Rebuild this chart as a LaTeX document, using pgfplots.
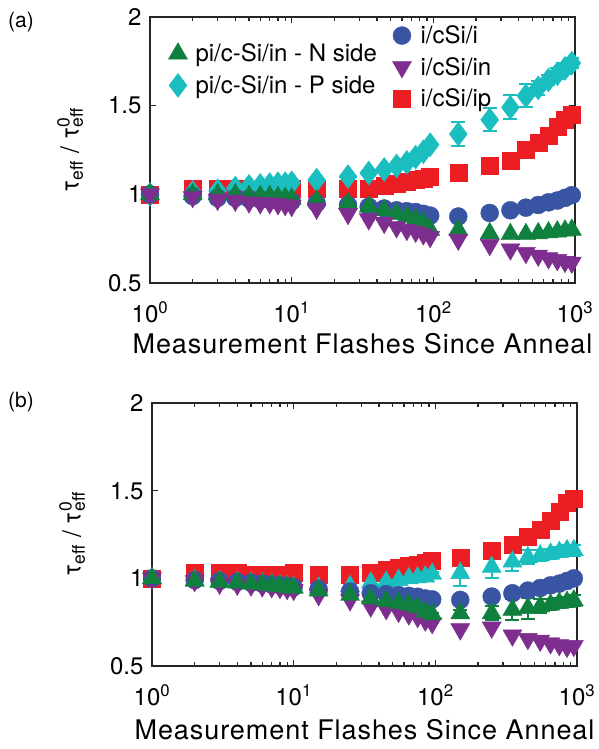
\documentclass[border=0pt]{standalone}
\usepackage{pgfplots}
\pgfplotsset{compat=1.18}
\usepackage{pgfplotstable}
\usepackage{fontspec}
\setmainfont{TeX Gyre Heros}

\definecolor{cgreen}{RGB}{16,128,62}
\definecolor{ccyan}{RGB}{27,190,190}
\definecolor{cblue}{RGB}{58,84,164}
\definecolor{cpurple}{RGB}{126,46,142}
\definecolor{cred}{RGB}{237,29,36}

\pgfplotstableread{
x red cyan cyane blue green purple
1 1.00 1.00 0.00 1.00 1.00 1.00
2 1.03 1.01 0.00 0.99 1.00 0.985
3 1.03 1.02 0.00 0.98 1.00 0.97
4 1.03 1.035 0.00 0.98 1.00 0.965
5 1.02 1.045 0.00 0.975 0.99 0.955
6 1.02 1.05 0.00 0.97 0.99 0.95
7 1.02 1.055 0.00 0.97 0.99 0.95
8 1.02 1.06 0.00 0.965 0.985 0.945
9 1.02 1.06 0.00 0.96 0.98 0.94
10 1.03 1.065 0.00 0.96 0.975 0.935
15 1.03 1.08 0.00 0.95 0.965 0.92
25 1.03 1.10 0.01 0.94 0.95 0.89
35 1.03 1.12 0.01 0.93 0.93 0.86
45 1.05 1.14 0.01 0.92 0.91 0.84
55 1.06 1.16 0.01 0.91 0.89 0.815
65 1.07 1.18 0.01 0.905 0.875 0.80
75 1.08 1.21 0.01 0.90 0.86 0.79
85 1.09 1.24 0.01 0.89 0.84 0.775
95 1.10 1.28 0.01 0.88 0.80 0.76
150 1.12 1.34 0.07 0.875 0.80 0.745
250 1.16 1.42 0.065 0.895 0.78 0.715
350 1.19 1.49 0.068 0.91 0.775 0.69
450 1.25 1.555 0.065 0.925 0.775 0.67
550 1.29 1.60 0.04 0.94 0.78 0.655
650 1.33 1.645 0.03 0.955 0.785 0.64
750 1.38 1.68 0.03 0.965 0.79 0.63
850 1.42 1.71 0.03 0.98 0.795 0.62
950 1.45 1.74 0.03 0.995 0.80 0.615
}\dataA

\pgfplotstableread{
x red cyan cyane blue green greene purple
1 1.00 1.00 0.00 1.00 1.00 0.00 1.00
2 1.03 0.99 0.00 0.99 0.985 0.00 0.985
3 1.03 0.985 0.00 0.985 0.98 0.00 0.97
4 1.03 0.98 0.00 0.98 0.975 0.00 0.965
5 1.02 0.975 0.00 0.975 0.97 0.00 0.96
6 1.02 0.97 0.00 0.97 0.965 0.00 0.955
7 1.02 0.965 0.00 0.965 0.96 0.00 0.95
8 1.02 0.96 0.00 0.96 0.955 0.00 0.945
9 1.02 0.955 0.00 0.955 0.95 0.00 0.94
10 1.03 0.95 0.00 0.95 0.945 0.00 0.935
15 1.02 0.945 0.00 0.94 0.93 0.00 0.905
25 1.02 0.955 0.01 0.925 0.905 0.01 0.876
35 1.03 0.975 0.01 0.915 0.885 0.01 0.84
45 1.05 0.98 0.01 0.91 0.87 0.01 0.825
55 1.06 0.99 0.01 0.905 0.86 0.01 0.81
65 1.07 1.00 0.01 0.90 0.85 0.01 0.795
75 1.08 1.005 0.01 0.895 0.835 0.01 0.78
85 1.09 1.01 0.01 0.885 0.81 0.01 0.76
95 1.10 1.025 0.01 0.88 0.795 0.01 0.745
150 1.115 1.03 0.075 0.877 0.80 0.02 0.71
250 1.16 1.065 0.065 0.896 0.80 0.04 0.72
350 1.19 1.095 0.055 0.915 0.82 0.06 0.675
450 1.24 1.12 0.04 0.93 0.83 0.06 0.655
550 1.28 1.13 0.03 0.945 0.84 0.04 0.645
650 1.33 1.14 0.03 0.96 0.85 0.03 0.63
750 1.38 1.15 0.03 0.97 0.86 0.03 0.62
850 1.43 1.16 0.03 0.985 0.865 0.03 0.61
950 1.455 1.16 0.03 1.00 0.873 0.03 0.615
}\dataB

\pgfplotsset{
  legend image code/.code={\draw[#1] plot coordinates {(0pt,0pt)};},
  every axis/.append style={
    axis line style={line width=2pt, black!85},
    major tick style={line width=1.3pt, black!85},
    minor tick style={line width=1.3pt, black!85},
    major tick length=6pt, minor tick length=4pt,
    tick label style={font=\fontsize{24}{28}\selectfont, black},
    xticklabel style={yshift=-15pt},
    yticklabel style={xshift=-5pt},
  },
}

\begin{document}
\begin{tikzpicture}
% ---------- panel (a)
\begin{axis}[scale only axis, width=425pt, height=266pt, at={(150pt,-283pt)}, anchor=south west,
    xmode=log, xmin=1, xmax=1000, ymin=0.5, ymax=2,
    xtick={1,10,100,1000},
    xticklabels={10\textsuperscript{0},10\textsuperscript{1},10\textsuperscript{2},10\textsuperscript{3}},
    minor xtick={2,3,4,5,6,7,8,9,20,30,40,50,60,70,80,90,200,300,400,500,600,700,800,900},
    ytick={0.5,1,1.5,2}, yticklabels={0.5,1,1.5,2},
    xlabel={Measurement Flashes Since Anneal},
    xlabel style={font=\fontsize{27}{32}\selectfont\addfontfeatures{LetterSpace=3.5}, at={(axis description cs:0.5,0)}, anchor=north, yshift=-47pt},
    ylabel={τ\textsubscript{eff} / τ\rlap{\textsuperscript{0}}\textsubscript{eff}},
    ylabel style={font=\fontsize{25}{30}\selectfont, at={(axis description cs:-0.188,0.5)}, anchor=center},
    clip=false,
  legend style={at={(axis description cs:0.57,0.975)}, anchor=north west,
    draw=none, fill=none, inner sep=0pt, row sep=8pt,
    font=\fontsize{24}{27}\selectfont,
    /tikz/every odd column/.append style={column sep=7pt}},
  legend cell align=left]
\addplot[only marks, mark=square*, mark size=8.5pt, color=cred, forget plot] table[x=x, y=red] {\dataA};
\addplot[only marks, mark=diamond*, mark size=12pt, color=ccyan, forget plot,
  error bars/y dir=both, error bars/y explicit,
  error bars/error bar style={line width=2pt, ccyan},
  error bars/error mark options={ccyan, mark size=7pt, line width=2pt, rotate=90}] table[x=x, y=cyan, y error=cyane] {\dataA};
\addplot[only marks, mark=*, mark size=9pt, color=cblue, forget plot] table[x=x, y=blue] {\dataA};
\addplot[only marks, mark=triangle*, mark size=11pt, color=cgreen, forget plot] table[x=x, y=green] {\dataA};
\addplot[only marks, mark=triangle*, mark size=11pt, mark options={rotate=180}, color=cpurple, forget plot] table[x=x, y=purple] {\dataA};
\addlegendimage{only marks, mark=*, mark size=9pt, color=cblue}\addlegendentry{i/cSi/i}
\addlegendimage{only marks, mark=triangle*, mark size=11pt, mark options={rotate=180}, color=cpurple}\addlegendentry{i/cSi/in}
\addlegendimage{only marks, mark=square*, mark size=8.5pt, color=cred}\addlegendentry{i/cSi/ip}
\end{axis}
\begin{axis}[scale only axis, width=425pt, height=266pt, at={(150pt,-283pt)}, anchor=south west,
  hide axis, xmin=0, xmax=1, ymin=0, ymax=1,
  legend style={at={(axis description cs:0.043,0.907)}, anchor=north west,
    draw=none, fill=none, inner sep=0pt, row sep=8pt,
    font=\fontsize{24}{27}\selectfont,
    /tikz/every odd column/.append style={column sep=6pt}},
  legend cell align=left]
\addlegendimage{only marks, mark=triangle*, mark size=11pt, color=cgreen}\addlegendentry{pi/c-Si/in - N side}
\addlegendimage{only marks, mark=diamond*, mark size=12pt, color=ccyan}\addlegendentry{pi/c-Si/in - P side}
\end{axis}
% ---------- panel (b)
\begin{axis}[scale only axis, width=425pt, height=263pt, at={(152pt,-666pt)}, anchor=south west,
    xmode=log, xmin=1, xmax=1000, ymin=0.5, ymax=2,
    xtick={1,10,100,1000},
    xticklabels={10\textsuperscript{0},10\textsuperscript{1},10\textsuperscript{2},10\textsuperscript{3}},
    minor xtick={2,3,4,5,6,7,8,9,20,30,40,50,60,70,80,90,200,300,400,500,600,700,800,900},
    ytick={0.5,1,1.5,2}, yticklabels={0.5,1,1.5,2},
    xlabel={Measurement Flashes Since Anneal},
    xlabel style={font=\fontsize{27}{32}\selectfont\addfontfeatures{LetterSpace=3.5}, at={(axis description cs:0.5,0)}, anchor=north, yshift=-50pt},
    ylabel={τ\textsubscript{eff} / τ\rlap{\textsuperscript{0}}\textsubscript{eff}},
    ylabel style={font=\fontsize{25}{30}\selectfont, at={(axis description cs:-0.188,0.5)}, anchor=center},
    clip=false]
\addplot[only marks, mark=square*, mark size=8.5pt, color=cred] table[x=x, y=red] {\dataB};
\addplot[only marks, mark=triangle*, mark size=11pt, color=ccyan,
  error bars/y dir=both, error bars/y explicit,
  error bars/error bar style={line width=2pt, ccyan},
  error bars/error mark options={ccyan, mark size=7pt, line width=2pt, rotate=90}] table[x=x, y=cyan, y error=cyane] {\dataB};
\addplot[only marks, mark=*, mark size=9pt, color=cblue] table[x=x, y=blue] {\dataB};
\addplot[only marks, mark=triangle*, mark size=11pt, mark options={rotate=180}, color=cpurple] table[x=x, y=purple] {\dataB};
\addplot[only marks, mark=triangle*, mark size=11pt, color=cgreen,
  error bars/y dir=both, error bars/y explicit,
  error bars/error bar style={line width=2pt, cgreen},
  error bars/error mark options={cgreen, mark size=7pt, line width=2pt, rotate=90}] table[x=x, y=green, y error=greene] {\dataB};
\end{axis}
\node[anchor=north west, inner sep=0pt, font=\fontsize{21}{25}\selectfont] at (8pt,-12pt) {(a)};
\node[anchor=north west, inner sep=0pt, font=\fontsize{21}{25}\selectfont] at (8pt,-392pt) {(b)};
\pgfresetboundingbox
\path[use as bounding box] (0pt,0pt) rectangle (598pt,-749pt);
\end{tikzpicture}
\end{document}
